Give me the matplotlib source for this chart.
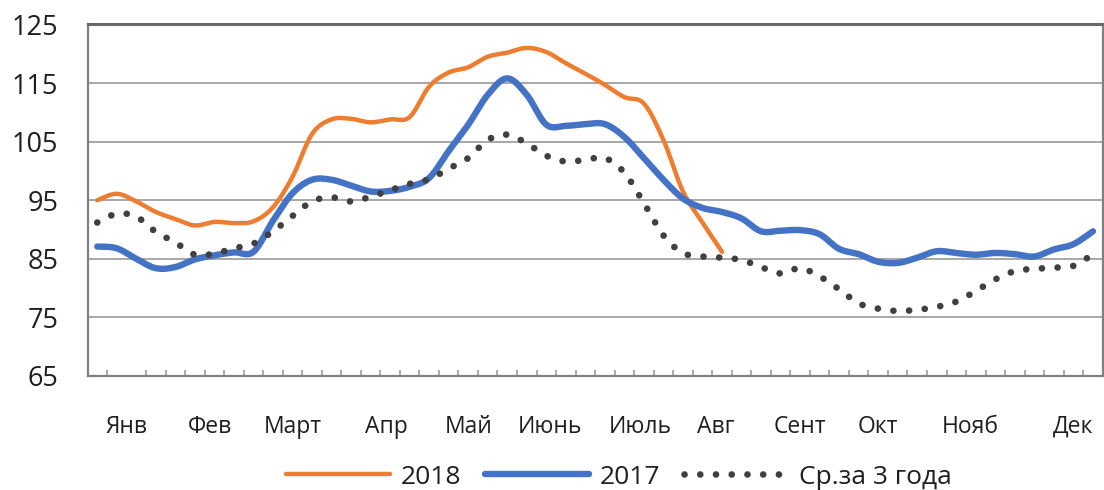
import numpy as np
import matplotlib
matplotlib.use("Agg")
import matplotlib.pyplot as plt

plt.rcParams['font.family'] = ['Open Sans', 'DejaVu Sans']

# ---- data (weekly index values, 52 weeks) ----
series_2018 = [95.0, 96.1, 94.8, 93.0, 91.8, 90.7, 91.3, 91.1, 91.4, 93.8,
               99.0, 106.3, 108.8, 108.9, 108.3, 108.8, 109.2, 114.4, 116.8, 117.7,
               119.5, 120.2, 121.0, 120.3, 118.4, 116.6, 114.7, 112.6, 111.5, 105.3,
               96.5, 91.2, 86.2]
series_2017 = [87.1, 86.8, 85.0, 83.4, 83.6, 84.9, 85.6, 86.1, 86.2, 91.5,
               96.2, 98.5, 98.5, 97.5, 96.5, 96.6, 97.3, 98.8, 103.4, 107.9,
               113.0, 115.8, 113.0, 107.9, 107.7, 108.0, 108.0, 105.8, 102.2, 98.5,
               95.3, 93.7, 93.0, 91.9, 89.7, 89.8, 89.9, 89.2, 86.7, 85.8,
               84.5, 84.3, 85.2, 86.3, 86.0, 85.7, 86.0, 85.8, 85.4, 86.6,
               87.5, 89.7]
series_avg3 = [91.2, 92.7, 92.2, 89.6, 87.8, 85.7, 85.9, 86.8, 87.6, 89.7,
               92.3, 94.8, 95.5, 94.8, 95.6, 96.7, 97.8, 98.6, 100.4, 102.2,
               105.3, 106.2, 104.7, 102.6, 101.6, 101.9, 102.2, 99.7, 94.5, 89.0,
               86.0, 85.4, 85.2, 84.8, 83.6, 82.5, 83.4, 82.0, 79.8, 77.4,
               76.5, 76.1, 76.3, 76.8, 77.7, 79.5, 81.5, 82.9, 83.3, 83.5,
               83.8, 85.8]
n_weeks = 52
month_labels = ['Янв', 'Фев', 'Март', 'Апр', 'Май', 'Июнь', 'Июль', 'Авг',
                'Сент', 'Окт', 'Нояб', 'Дек']
month_label_pos = [1.5, 5.8, 10.0, 14.8, 19.0, 23.2, 27.8, 31.7, 36.0, 40.0, 44.7, 50.0]
y_ticks = [65, 75, 85, 95, 105, 115, 125]
legend_labels = ['2018', '2017', 'Ср.за 3 года']


def smooth(y, k=16):
    """Catmull-Rom smoothing like Excel's smoothed line."""
    y = np.asarray(y, float)
    x = np.arange(len(y), dtype=float)
    p = np.concatenate([[y[0]], y, [y[-1]]])
    px = np.concatenate([[x[0]], x, [x[-1]]])
    xs, ys = [], []
    t = np.linspace(0, 1, k, endpoint=False)
    for i in range(1, len(p) - 2):
        p0, p1, p2, p3 = p[i - 1], p[i], p[i + 1], p[i + 2]
        q0, q1, q2, q3 = px[i - 1], px[i], px[i + 1], px[i + 2]
        for arr, a0, a1, a2, a3 in ((ys, p0, p1, p2, p3), (xs, q0, q1, q2, q3)):
            arr.extend(0.5 * ((2 * a1) + (-a0 + a2) * t +
                              (2 * a0 - 5 * a1 + 4 * a2 - a3) * t ** 2 +
                              (-a0 + 3 * a1 - 3 * a2 + a3) * t ** 3))
    xs.append(x[-1]); ys.append(y[-1])
    return np.array(xs), np.array(ys)


TXT = '#1f1f1f'

fig = plt.figure(figsize=(11.04, 4.90), dpi=100)
ax = fig.add_axes([87.5 / 1104, 1 - 376 / 490, (1102.7 - 87.5) / 1104, (376 - 24.5) / 490])

x18, y18 = smooth(series_2018)
x17, y17 = smooth(series_2017)
xav, yav = smooth(series_avg3)

l1, = ax.plot(x18, y18, color='#ED7D31', lw=3.2, solid_capstyle='round', zorder=3)
l2, = ax.plot(x17, y17, color='#4472C4', lw=4.6, solid_capstyle='round', zorder=4)
l3, = ax.plot(xav, yav, color='#404040', lw=4.8, ls=(0, (0.01, 2.35)),
              dash_capstyle='round', zorder=5)

ax.set_xlim(-0.5, n_weeks - 0.5)
ax.set_ylim(65, 125)
ax.set_yticks(y_ticks)
ax.set_yticklabels([str(v) for v in y_ticks])
ax.grid(axis='y', color='#a0a0a0', lw=1.3)
ax.set_axisbelow(True)

ax.set_xticks(month_label_pos)
ax.set_xticklabels(month_labels)
ax.set_xticks(np.arange(0.5, n_weeks - 0.5, 1.0), minor=True)
ax.tick_params(axis='x', which='major', length=0, pad=28, labelsize=16.5, colors=TXT)
ax.tick_params(axis='x', which='minor', direction='in', length=4, width=1.2, color='#999999')
ax.tick_params(axis='y', length=0, pad=21, labelsize=19.5, labelcolor=TXT)

for name, sp in ax.spines.items():
    sp.set_color('#808080')
    sp.set_linewidth(1.6)
ax.spines['top'].set_color('#6a6a6a')
ax.spines['top'].set_linewidth(2.2)

fig.legend([l1, l2, l3], legend_labels, loc='center', ncol=3, frameon=False,
           bbox_to_anchor=(619 / 1104, 1 - 477 / 490), fontsize=19,
           handlelength=3.95, handletextpad=0.4, columnspacing=0.9,
           labelcolor=TXT, borderpad=0, borderaxespad=0)

fig.savefig('out.png', dpi=100, facecolor='white')
